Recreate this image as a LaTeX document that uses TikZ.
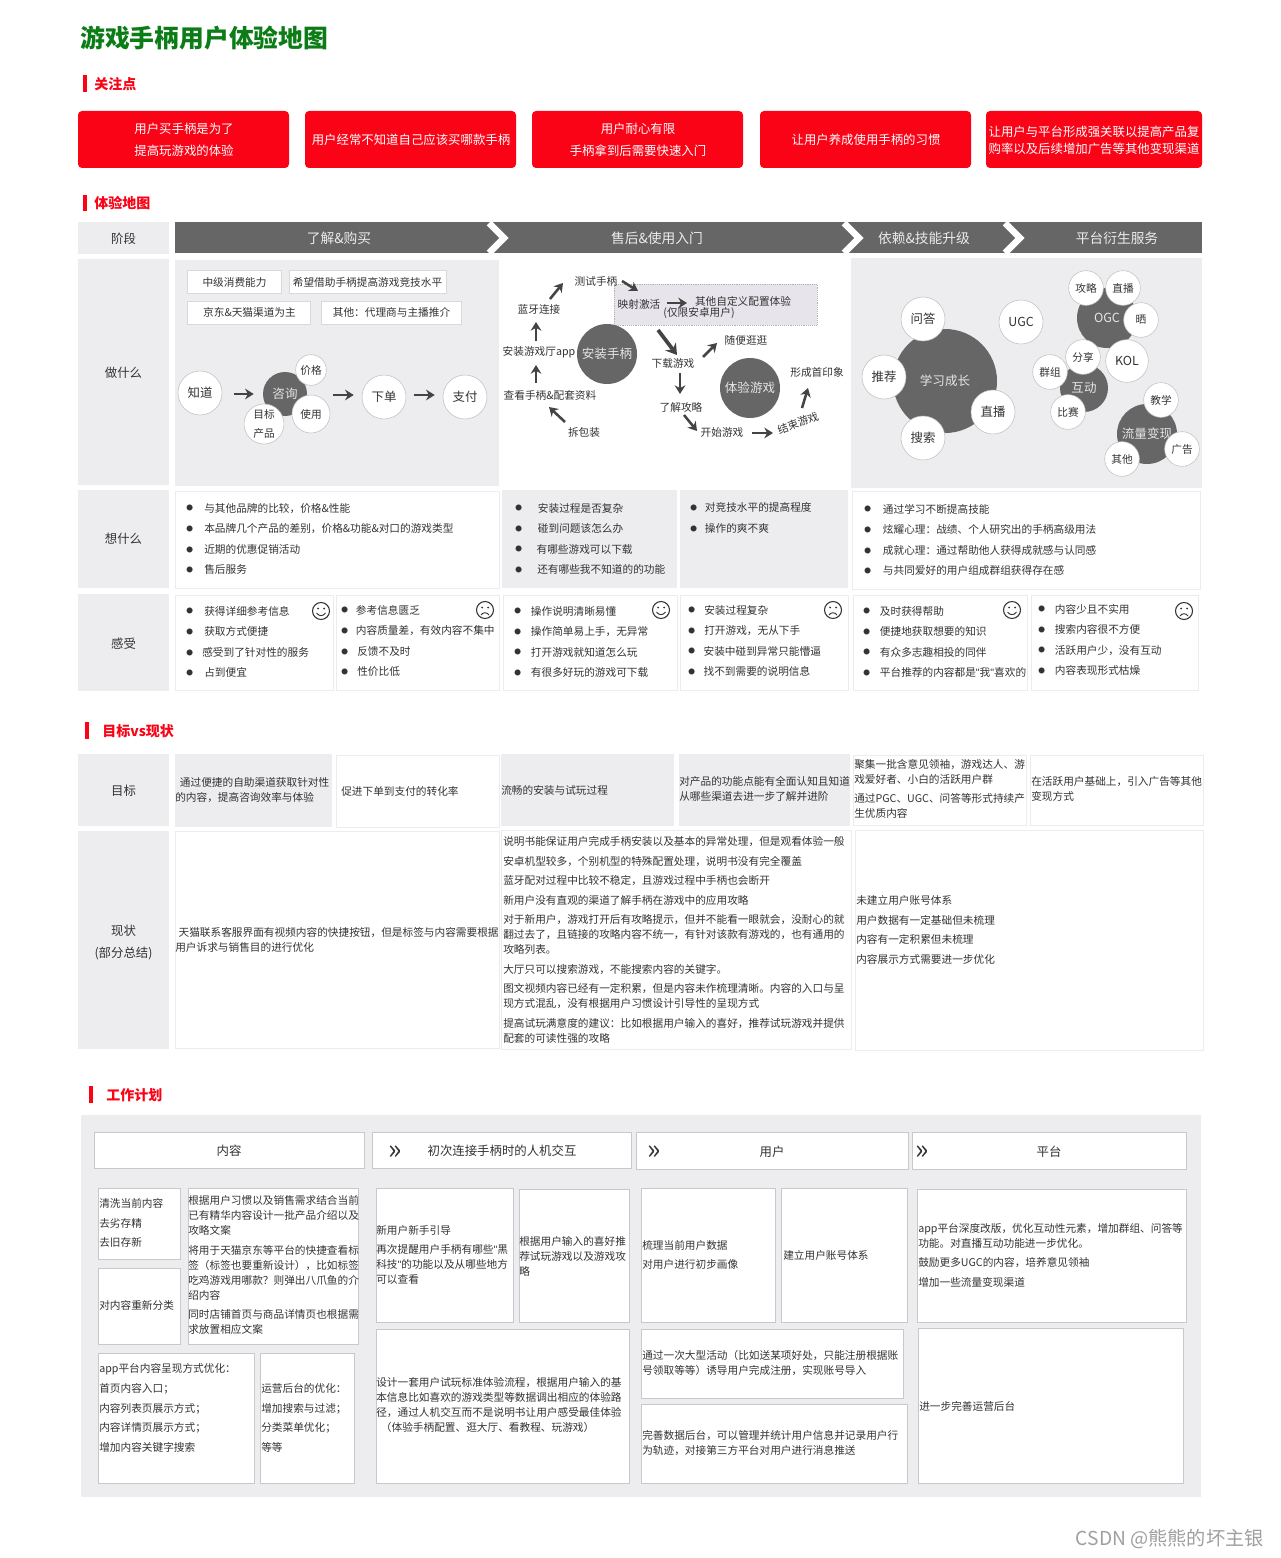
\documentclass[tikz,border=0pt]{standalone}
\usepackage{fontspec}
\setmainfont{Noto Sans CJK SC}
\newfontfamily\quotefont{Liberation Sans}
\usepackage{xcolor}
\usetikzlibrary{arrows.meta}

\definecolor{headred}{RGB}{250,3,22}
\definecolor{titlegreen}{RGB}{12,125,22}
\definecolor{panelgray}{RGB}{237,236,239}
\definecolor{darkbar}{RGB}{102,102,102}
\definecolor{txtgray}{RGB}{51,51,51}
\definecolor{edgegray}{RGB}{236,236,238}
\definecolor{planedge}{RGB}{200,200,204}
\definecolor{arrowgray}{RGB}{68,68,68}
\definecolor{mapviolet}{RGB}{232,228,235}

\newcommand{\smalltxt}{\fontsize{8}{11.25}\selectfont}
\newcommand{\bigtxt}{\fontsize{9.3}{16.5}\selectfont}
\newcommand{\itmw}[1]{\makebox[#1][l]{\raisebox{1pt}{\fontsize{5}{5}\selectfont ●}}}
\newcommand{\itm}{\itmw{12.5pt}}
\newcommand{\qm}{{\quotefont "}}

\tikzset{
  smileface/.pic={
    \draw[txtgray, line width=.8pt] (0,0) circle (8.5);
    \fill[txtgray] (-3,-2.5) circle (1) (3,-2.5) circle (1);
    \draw[txtgray, line width=.7pt] (-4.5,2) .. controls (-2,5.5) and (2,5.5) .. (4.5,2);
  },
  frownface/.pic={
    \draw[txtgray, line width=.8pt] (0,0) circle (8.5);
    \fill[txtgray] (-3,-2.5) circle (1) (3,-2.5) circle (1);
    \draw[txtgray, line width=.7pt] (-4,5) .. controls (-2,2) and (2,2) .. (4,5);
  }
}

\begin{document}
\begin{tikzpicture}[x=.75pt, y=-.75pt, >={Stealth[length=6.5pt,width=8pt]},
    sectionhead/.style={anchor=west, inner sep=0pt, text=headred, font=\fontsize{10.5}{13}\selectfont\bfseries},
    focusbox/.style={align=center, inner sep=0pt, text=white, font=\bigtxt},
    rowlabel/.style={align=center, inner sep=0pt, text=txtgray, font=\fontsize{9.3}{16.5}\selectfont},
    stagetext/.style={inner sep=0pt, text=white!92!black, font=\fontsize{10.3}{13}\selectfont},
    celltext/.style={anchor=west, align=left, inner sep=0pt, text=txtgray, font=\smalltxt},
    listtext/.style={celltext, font=\fontsize{8}{15.4}\selectfont},
    tagtext/.style={inner sep=0pt, text=txtgray, font=\smalltxt},
    flowtext/.style={inner sep=0pt, text=txtgray, font=\smalltxt},
    smallcirc/.style={circle, draw=gray!50, fill=white, inner sep=0pt, align=center, text=txtgray, font=\fontsize{8}{14}\selectfont},
    bigcirc/.style={circle, draw=gray!50, fill=white, inner sep=0pt, text=txtgray, font=\bigtxt},
    darkcirc/.style={circle, fill=darkbar, inner sep=0pt, text=white!90!black, font=\fontsize{9.4}{12}\selectfont},
    flowarrow/.style={->, line width=1.9pt, arrowgray},
    cellline/.style={draw=edgegray, fill=white, line width=.6pt},
    planbox/.style={draw=planedge, fill=white, line width=.65pt}]

    \useasboundingbox (0,0) rectangle (1280,1558);
    \fill[white] (0,0) rectangle (1280,1558);

    % Title
    \node[anchor=west, inner sep=0pt, text=titlegreen, font=\fontsize{18.6}{22}\selectfont\bfseries] (title) at (80,38) {游戏手柄用户体验地图};

    % Focus points
    \fill[headred] (83,75) rectangle (87,92);
    \node[sectionhead] (headfocus) at (94,84) {关注点};
    \fill[headred, rounded corners=3] (78,111) rectangle (289,168);
    \fill[headred, rounded corners=3] (305,111) rectangle (516,168);
    \fill[headred, rounded corners=3] (532,111) rectangle (743,168);
    \fill[headred, rounded corners=3] (760,111) rectangle (971,168);
    \fill[headred, rounded corners=3] (986,111) rectangle (1202,168);
    \node[focusbox] (focusa) at (184,140) {用户买手柄是为了\\提高玩游戏的体验};
    \node[focusbox] (focusb) at (411,140) {用户经常不知道自己应该买哪款手柄};
    \node[focusbox] (focusc) at (638,140) {用户耐心有限\\手柄拿到后需要快速入门};
    \node[focusbox] (focusd) at (866,140) {让用户养成使用手柄的习惯};
    \node[focusbox] (focuse) at (1094,140) {让用户与平台形成强关联以提高产品复\\[-4pt]购率以及后续增加广告等其他变现渠道};

    % Experience map
    \fill[headred] (83,195) rectangle (87,211);
    \node[sectionhead] (headmap) at (94,203) {体验地图};

    % Row labels
    \fill[panelgray] (78,222) rectangle (169,254);
    \fill[panelgray] (78,259) rectangle (169,485);
    \fill[panelgray] (78,490) rectangle (169,588);
    \fill[panelgray] (78,594) rectangle (169,691);
    \node[rowlabel] (rowstage) at (123.5,239) {阶段};
    \node[rowlabel] (rowdo) at (123.5,373) {做什么};
    \node[rowlabel] (rowthink) at (123.5,539) {想什么};
    \node[rowlabel] (rowfeel) at (123.5,643.5) {感受};

    % Stage bar
    \fill[darkbar] (175,222) rectangle (1202,253);
    \draw[white, line width=5pt] (489,223) -- (504,238) -- (489,253);
    \draw[white, line width=5pt] (844,223) -- (859,238) -- (844,253);
    \draw[white, line width=5pt] (1005,223) -- (1020,238) -- (1005,253);
    \node[stagetext] (stagea) at (339,238) {了解\&购买};
    \node[stagetext] (stageb) at (657,238) {售后\&使用入门};
    \node[stagetext] (stagec) at (924,238) {依赖\&技能升级};
    \node[stagetext] (staged) at (1117,238) {平台衍生服务};

    % Panels
    \fill[panelgray] (175,260) rectangle (499,486);
    \fill[panelgray] (851,258) rectangle (1202,488);

    % Buy: tags
    \draw[cellline, draw=gray!30] (187,270) rectangle (281,293);
    \draw[cellline, draw=gray!30] (289,270) rectangle (446,293);
    \draw[cellline, draw=gray!30] (187,301) rectangle (310,324);
    \draw[cellline, draw=gray!30] (321,301) rectangle (461,324);
    \node[tagtext] (taga) at (234.5,282) {中级消费能力};
    \node[tagtext] (tagb) at (367.5,282) {希望借助手柄提高游戏竞技水平};
    \node[tagtext] (tagc) at (249.5,312.5) {京东\&天猫渠道为主};
    \node[tagtext] (tagd) at (391.5,312.5) {其他：代理商与主播推介};

    % Buy: flow
    \node[darkcirc, minimum size=33pt] (zixun) at (285,394) {咨询};
    \node[bigcirc, minimum size=33pt] (zhidao) at (200,393) {知道};
    \node[smallcirc, minimum size=23pt] (jiage) at (311,370) {价格};
    \node[smallcirc, minimum size=28.5pt] (shiyong) at (311,414) {使用};
    \node[smallcirc, minimum size=30pt] (mubiao) at (264,424) {目标\\产品};
    \node[bigcirc, minimum size=33pt] (xiadan) at (384,397) {下单};
    \node[bigcirc, minimum size=33pt] (zhifu) at (465,397) {支付};
    \draw[flowarrow] ([shift={(12,1)}]zhidao.east) -- ([shift={(-9,0)}]zixun.west);
    \draw[flowarrow] ([shift={(26,1)}]zixun.east) -- ([shift={(-8,-2)}]xiadan.west);
    \draw[flowarrow] ([shift={(8,-2)}]xiadan.east) -- ([shift={(-8,-2)}]zhifu.west);

    % Install: flow
    \fill[mapviolet, draw=gray!60, densely dotted] (614,284) rectangle (817,325);
    \node[darkcirc, minimum size=45pt] (anzhuang) at (607,354) {安装手柄};
    \node[darkcirc, minimum size=45pt] (tiyan) at (750,388) {体验游戏};
    \node[flowtext] (ceshi) at (596,281) {测试手柄};
    \node[flowtext] (lanya) at (539,309) {蓝牙连接};
    \node[flowtext] (anapp) at (539,352) {安装游戏厅app};
    \node[flowtext] (chakan) at (550,395) {查看手柄\&配套资料};
    \node[flowtext] (chaibao) at (584,432) {拆包装};
    \node[flowtext] (yingshe) at (639,304) {映射激活};
    \node[flowtext] (qita) at (743,301) {其他自定义配置体验};
    \node[flowtext] (xianding) at (699,313.5) {(仅限安卓用户)};
    \node[flowtext] (xiazai) at (673,363) {下载游戏};
    \node[flowtext] (suibian) at (746,340) {随便逛逛};
    \node[flowtext] (liaojie) at (681,407) {了解攻略};
    \node[flowtext] (kaishi) at (722,432) {开始游戏};
    \node[flowtext, rotate=20] (jieshu) at (798,423) {结束游戏};
    \node[flowtext] (xingcheng) at (817,372) {形成首印象};
    \draw[flowarrow] ([shift={(-19,-10)}]chaibao.center) -- ([shift={(-1,12)}]chakan.center);
    \draw[flowarrow] ([shift={(-14,-12)}]chakan.center) -- ([shift={(-3,13)}]anapp.center);
    \draw[flowarrow] ([shift={(-3,-11)}]anapp.center) -- ([shift={(-3,13)}]lanya.center);
    \draw[flowarrow] ([shift={(11,-10)}]lanya.center) -- ([shift={(-33,2)}]ceshi.center);
    \draw[flowarrow] ([shift={(26,0)}]ceshi.center) -- ([shift={(-1,-13)}]yingshe.center);
    \draw[flowarrow] ([shift={(28,-1)}]yingshe.center) -- ([shift={(-56,2)}]qita.center);
    \draw[flowarrow, line width=2.8pt, >={Stealth[length=8pt,width=10pt]}] ([shift={(-15,-33)}]xiazai.center) -- ([shift={(4,-8)}]xiazai.center);
    \draw[flowarrow] ([shift={(30,-6)}]xiazai.center) -- ([shift={(-29,3)}]suibian.center);
    \draw[flowarrow] ([shift={(7,10)}]xiazai.center) -- ([shift={(-1,-13)}]liaojie.center);
    \draw[flowarrow] ([shift={(3,8)}]liaojie.center) -- ([shift={(-25,-1)}]kaishi.center);
    \draw[flowarrow] ([shift={(30,1)}]kaishi.center) -- ([shift={(-25,10)}]jieshu.center);
    \draw[flowarrow] ([shift={(4,-15)}]jieshu.center) -- ([shift={(-9,16)}]xingcheng.center);

    % Platform: circles
    \node[darkcirc, minimum size=78pt] (xuexi) at (945,381) {学习成长};
    \node[bigcirc, minimum size=33pt] (wenda) at (923,319) {问答};
    \node[bigcirc, minimum size=33pt] (tuijian) at (884,377) {推荐};
    \node[bigcirc, minimum size=33pt] (zhibo) at (993,412) {直播};
    \node[bigcirc, minimum size=33pt] (sousuo) at (923,438) {搜索};
    \node[bigcirc, minimum size=33pt] (ugc) at (1021,322) {UGC};
    \node[darkcirc, minimum size=45pt] (ogc) at (1107,318) {OGC};
    \node[smallcirc, minimum size=26pt] (gonglue) at (1086,288) {攻略};
    \node[smallcirc, minimum size=26pt] (zhibob) at (1123,288) {直播};
    \node[smallcirc, minimum size=26pt] (shai) at (1141,320) {晒};
    \node[bigcirc, minimum size=32pt] (kol) at (1127,361) {KOL};
    \node[darkcirc, minimum size=36pt] (hudong) at (1084,388) {互动};
    \node[smallcirc, minimum size=26pt] (fenxiang) at (1083,357) {分享};
    \node[smallcirc, minimum size=26pt] (qunzu) at (1050,372) {群组};
    \node[smallcirc, minimum size=26pt] (bisai) at (1068,412) {比赛};
    \node[darkcirc, minimum size=45pt] (liuliang) at (1147,434) {流量变现};
    \node[smallcirc, minimum size=26pt] (jiaoxue) at (1161,400) {教学};
    \node[smallcirc, minimum size=26pt] (guanggao) at (1182,449) {广告};
    \node[smallcirc, minimum size=26pt] (qitab) at (1122,459) {其他};

    % Think row
    \draw[cellline] (175,491) rectangle (499,588);
    \fill[panelgray] (502,490) rectangle (677,588);
    \fill[panelgray] (680,490) rectangle (848,588);
    \draw[cellline] (852,491) rectangle (1200,589);
    \node[listtext] (thinka) at (186,539) {\itmw{13.5pt}与其他品牌的比较，价格\&性能\\\itmw{13.5pt}本品牌几个产品的差别，价格\&功能\&对口的游戏类型\\\itmw{13.5pt}近期的优惠促销活动\\\itmw{13.5pt}售后服务};
    \node[listtext] (thinkb) at (515,539) {\itmw{17pt}安装过程是否复杂\\\itmw{17pt}碰到问题该怎么办\\\itmw{16pt}有哪些游戏可以下载\\\itmw{16.5pt}还有哪些我不知道的的功能};
    \node[listtext] (thinkc) at (690,518) {\itmw{11pt}对竞技水平的提高程度\\\itmw{11pt}操作的爽不爽};
    \node[listtext] (thinkd) at (864,540) {\itmw{14pt}通过学习不断提高技能\\\itmw{14pt}炫耀心理：战绩、个人研究出的手柄高级用法\\\itmw{14pt}成就心理：通过帮助他人获得成就感与认同感\\\itmw{14pt}与共同爱好的用户组成群组获得存在感};

    % Feel row
    \draw[cellline] (175,595) rectangle (333,690);
    \draw[cellline] (336,595) rectangle (499,690);
    \draw[cellline] (503,595) rectangle (677,690);
    \draw[cellline] (680,595) rectangle (848,690);
    \draw[cellline] (853,595) rectangle (1027,690);
    \draw[cellline] (1031,595) rectangle (1198,690);
    \node[listtext] (feela) at (186,642) {\itmw{13.5pt}获得详细参考信息\\\itmw{13.5pt}获取方式便捷\\\itmw{12pt}感受到了针对性的服务\\\itmw{13.5pt}占到便宜};
    \node[listtext] (feelb) at (341,641) {\itmw{11pt}参考信息匮乏\\\itmw{11pt}内容质量差，有效内容不集中\\\itmw{12pt}反馈不及时\\\itmw{12pt}性价比低};
    \node[listtext] (feelc) at (514,642) {\itm 操作说明清晰易懂\\\itm 操作简单易上手，无异常\\\itm 打开游戏就知道怎么玩\\\itm 有很多好玩的游戏可下载};
    \node[listtext] (feeld) at (688,641) {\itmw{12pt}安装过程复杂\\\itmw{12pt}打开游戏，无从下手\\\itmw{11.5pt}安装中碰到异常只能懵逼\\\itmw{11.5pt}找不到需要的说明信息};
    \node[listtext] (feele) at (863,642) {\itm 及时获得帮助\\\itm 便捷地获取想要的知识\\\itm 有众多志趣相投的同伴\\\itm 平台推荐的内容都是\qm 我\qm 喜欢的};
    \node[listtext] (feelf) at (1038,640) {\itm 内容少且不实用\\\itm 搜索内容很不方便\\\itm 活跃用户少，没有互动\\\itm 内容表现形式枯燥};
    \pic at (321,611) {smileface};
    \pic at (485,610) {frownface};
    \pic at (661,610) {smileface};
    \pic at (833,610) {frownface};
    \pic at (1012,610) {smileface};
    \pic at (1184,611) {frownface};

    % Goal vs status
    \fill[headred] (85,722) rectangle (89,739);
    \node[sectionhead] (headgoal) at (102,731) {目标vs现状};
    \fill[panelgray] (78,754) rectangle (169,826);
    \fill[panelgray] (78,831) rectangle (169,1049);
    \node[rowlabel] (rowgoal) at (123.5,791) {目标};
    \node[rowlabel] (rowstatus) at (123.5,942) {现状\\(部分总结)};

    % Goal row
    \fill[panelgray] (175,754) rectangle (332,827);
    \draw[cellline] (336,755) rectangle (499,827);
    \fill[panelgray] (501,754) rectangle (674,826);
    \fill[panelgray] (679,754) rectangle (850,826);
    \draw[cellline] (853,755) rectangle (1026,825);
    \draw[cellline] (1030,755) rectangle (1203,825);
    \node[celltext] (goala) at (175,790) {\hspace*{3.5pt}通过便捷的自助渠道获取针对性\\的内容，提高咨询效率与体验};
    \node[celltext] (goalb) at (341,791) {促进下单到支付的转化率};
    \node[celltext] (goalc) at (501,790) {流畅的安装与试玩过程};
    \node[celltext] (goald) at (679,789) {对产品的功能点能有全面认知且知道\\从哪些渠道去进一步了解并进阶};
    \node[celltext] (goale) at (854,789) {聚集一批含意见领袖，游戏达人、游\\戏爱好者、小白的活跃用户群\\[3.4pt]通过PGC、UGC、问答等形式持续产\\生优质内容};
    \node[celltext] (goalf) at (1031,789) {在活跃用户基础上，引入广告等其他\\变现方式};

    % Status row
    \draw[cellline] (175,831) rectangle (499,1048);
    \draw[cellline] (501,830) rectangle (851,1049);
    \draw[cellline] (855,830) rectangle (1203,1050);
    \node[celltext] (statusa) at (175,940) {\hspace*{2.5pt}天猫联系客服界面有视频内容的快捷按钮，但是标签与内容需要根据\\用户诉求与销售目的进行优化};
    \node[celltext] (statusb) at (503,940) {说明书能保证用户完成手柄安装以及基本的异常处理，但是观看体验一般\\[3.4pt]安卓机型较多，个别机型的特殊配置处理，说明书没有完全覆盖\\[3.4pt]蓝牙配对过程中比较不稳定，且游戏过程中手柄也会断开\\[3.4pt]新用户没有直观的渠道了解手柄在游戏中的应用攻略\\[3.4pt]对于新用户，游戏打开后有攻略提示，但并不能看一眼就会，没耐心的就\\翻过去了，且链接的攻略内容不统一，有针对该款有游戏的，也有通用的\\攻略列表。\\[3.4pt]大厅只可以搜索游戏，不能搜索内容的关键字。\\[3.4pt]图文视频内容已经有一定积累，但是内容未作梳理清晰。内容的入口与呈\\现方式混乱，没有根据用户习惯设计引导性的呈现方式\\[3.4pt]提高试玩满意度的建议：比如根据用户输入的喜好，推荐试玩游戏并提供\\配套的可读性强的攻略};
    \node[listtext, font=\fontsize{8}{14.7}\selectfont] (statusc) at (856,930) {未建立用户账号体系\\用户数据有一定基础但未梳理\\内容有一定积累但未梳理\\内容展示方式需要进一步优化};

    % Work plan
    \fill[headred] (89,1086) rectangle (93,1103);
    \node[sectionhead] (headplan) at (106,1095) {工作计划};
    \fill[panelgray] (81,1115) rectangle (1201,1497);

    % Plan headers
    \draw[planbox] (94,1132) rectangle (364,1168);
    \draw[planbox] (372,1132) rectangle (631,1168);
    \draw[planbox] (636,1132) rectangle (908,1169);
    \draw[planbox] (912,1132) rectangle (1186,1169);
    \node[rowlabel] (planone) at (229,1150.5) {内容};
    \node[rowlabel] (plantwo) at (502,1150.5) {初次连接手柄时的人机交互};
    \node[rowlabel] (planthree) at (772,1151.5) {用户};
    \node[rowlabel] (planfour) at (1049,1151.5) {平台};
    \node[rowlabel, font=\fontsize{21}{21}\selectfont] (chevtwo) at (395,1153) {»};
    \node[rowlabel, font=\fontsize{21}{21}\selectfont] (chevthree) at (654,1153) {»};
    \node[rowlabel, font=\fontsize{21}{21}\selectfont] (chevfour) at (922,1153) {»};

    % Plan: content
    \draw[planbox] (98,1188) rectangle (180,1259);
    \draw[planbox] (98,1268) rectangle (180,1344);
    \draw[planbox] (188,1188) rectangle (358,1344);
    \draw[planbox] (98,1353) rectangle (254,1483);
    \draw[planbox] (260,1353) rectangle (354,1483);
    \node[listtext, font=\fontsize{8}{14.7}\selectfont] (plana) at (99,1223) {清洗当前内容\\去劣存精\\去旧存新};
    \node[celltext] (planb) at (99,1305) {对内容重新分类};
    \node[celltext] (planc) at (188,1265) {根据用户习惯以及销售需求结合当前\\已有精华内容设计一批产品介绍以及\\攻略文案\\[3.4pt]将用于天猫京东等平台的快捷查看标\\签（标签也要重新设计），比如标签\\吃鸡游戏用哪款？则弹出八爪鱼的介\\绍内容\\[3.4pt]同时店铺首页与商品详情页也根据需\\求放置相应文案};
    \node[listtext, font=\fontsize{8}{14.7}\selectfont] (pland) at (99,1408) {app平台内容呈现方式优化：\\首页内容入口；\\内容列表页展示方式；\\内容详情页展示方式；\\增加内容关键字搜索};
    \node[listtext, font=\fontsize{8}{14.7}\selectfont] (plane) at (261,1418) {运营后台的优化：\\增加搜索与过滤；\\分类菜单优化；\\等等};

    % Plan: first connect
    \draw[planbox] (376,1188) rectangle (513,1322);
    \draw[planbox] (519,1189) rectangle (629,1322);
    \draw[planbox] (376,1329) rectangle (629,1483);
    \node[celltext] (planf) at (376,1255) {新用户新手引导\\[3.4pt]再次提醒用户手柄有哪些\qm 黑\\科技\qm 的功能以及从哪些地方\\可以查看};
    \node[celltext] (plang) at (519,1256) {根据用户输入的喜好推\\荐试玩游戏以及游戏攻\\略};
    \node[celltext] (planh) at (376,1405) {设计一套用户试玩标准体验流程，根据用户输入的基\\本信息比如喜欢的游戏类型等数据调出相应的体验路\\径，通过人机交互而不是说明书让用户感受最佳体验\\\hspace*{3.5pt}（体验手柄配置、逛大厅、看教程、玩游戏）};

    % Plan: user
    \draw[planbox] (641,1188) rectangle (775,1322);
    \draw[planbox] (781,1188) rectangle (907,1322);
    \draw[planbox] (641,1329) rectangle (903,1398);
    \draw[planbox] (641,1404) rectangle (907,1483);
    \node[listtext, font=\fontsize{8}{14.7}\selectfont] (plani) at (642,1255) {梳理当前用户数据\\对用户进行初步画像};
    \node[celltext] (planj) at (783,1255) {建立用户账号体系};
    \node[celltext] (plank) at (642,1363) {通过一次大型活动（比如送某项好处，只能注册根据账\\号领取等等）诱导用户完成注册，实现账号导入};
    \node[celltext] (planl) at (642,1443) {完善数据后台，可以管理并统计用户信息并记录用户行\\为轨迹，对接第三方平台对用户进行消息推送};

    % Plan: platform
    \draw[planbox] (917,1189) rectangle (1186,1322);
    \draw[planbox] (918,1328) rectangle (1183,1483);
    \node[celltext] (planm) at (918,1255) {app平台深度改版，优化互动性元素，增加群组、问答等\\功能。对直播互动功能进一步优化。\\[3.4pt]鼓励更多UGC的内容，培养意见领袖\\[3.4pt]增加一些流量变现渠道};
    \node[celltext] (plann) at (919,1406) {进一步完善运营后台};

    % Watermark
    \node[anchor=east, inner sep=0pt, text=gray!75, font=\fontsize{14.4}{17}\selectfont] (watermark) at (1264,1539) {CSDN @熊熊的坏主银};
\end{tikzpicture}
\end{document}
